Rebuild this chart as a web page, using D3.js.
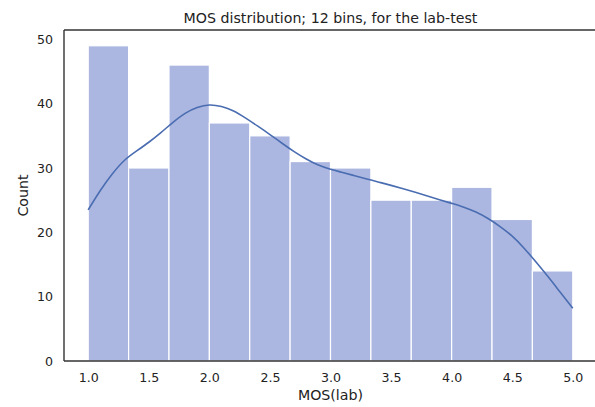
<!DOCTYPE html>
<html>
<head>
<meta charset="utf-8">
<script src="https://cdn.jsdelivr.net/npm/d3@7"></script>
<style>
  html, body { margin: 0; padding: 0; background: #fff; }
  svg { display: block; font-family: "DejaVu Sans", sans-serif; }
</style>
</head>
<body>
<svg id="chart" width="595" height="407"></svg>
<script>
// Histogram counts: 12 equal bins over MOS 1.0 – 5.0
const binStart = 1.0;
const binEnd = 5.0;
const counts = [49, 30, 46, 37, 35, 31, 30, 25, 25, 27, 22, 14];

// Kernel density estimate, scaled to counts, sampled every 0.1
const kdeX = [1.0, 1.1, 1.2, 1.3, 1.4, 1.5, 1.6, 1.7, 1.8, 1.9,
              2.0, 2.1, 2.2, 2.3, 2.4, 2.5, 2.6, 2.7, 2.8, 2.9,
              3.0, 3.1, 3.2, 3.3, 3.4, 3.5, 3.6, 3.7, 3.8, 3.9,
              4.0, 4.1, 4.2, 4.3, 4.4, 4.5, 4.6, 4.7, 4.8, 4.9, 5.0];
const kdeY = [23.5, 26.5, 29.1, 31.2, 32.65, 34.0, 35.5, 37.1, 38.5, 39.4,
              39.8, 39.55, 38.85, 37.75, 36.5, 35.2, 33.85, 32.55, 31.4, 30.45,
              29.8, 29.3, 28.8, 28.3, 27.8, 27.3, 26.78, 26.23, 25.66, 25.08,
              24.5, 23.9, 23.15, 22.15, 20.9, 19.4, 17.5, 15.3, 13.0, 10.6, 8.2];

const xTicks = [1.0, 1.5, 2.0, 2.5, 3.0, 3.5, 4.0, 4.5, 5.0];
const yTicks = [0, 10, 20, 30, 40, 50];

const titleText = "MOS distribution; 12 bins, for the lab-test";
const xLabel = "MOS(lab)";
const yLabel = "Count";

const svg = d3.select("#chart");
const plot = { left: 64, right: 597, top: 30, bottom: 361 };

const pad = (binEnd - binStart) * 0.05;
const x = d3.scaleLinear().domain([binStart - pad, binEnd + pad]).range([plot.left, plot.right]);
const y = d3.scaleLinear().domain([0, d3.max(counts) * 1.05]).range([plot.bottom, plot.top]);

const binW = (binEnd - binStart) / counts.length;
const bins = counts.map((c, i) => ({ x0: binStart + i * binW, x1: binStart + (i + 1) * binW, c }));

// Bars
svg.append("g").selectAll("rect").data(bins).join("rect")
  .attr("x", d => x(d.x0))
  .attr("y", d => y(d.c))
  .attr("width", d => x(d.x1) - x(d.x0))
  .attr("height", d => y(0) - y(d.c))
  .attr("fill", "#acb7e1")
  .attr("stroke", "#ffffff")
  .attr("stroke-width", 1.2);

// KDE curve
const line = d3.line()
  .x((d, i) => x(kdeX[i]))
  .y(d => y(d))
  .curve(d3.curveNatural);
svg.append("path")
  .attr("d", line(kdeY))
  .attr("fill", "none")
  .attr("stroke", "#4a6db1")
  .attr("stroke-width", 1.6);

// Axes (no tick marks, labels only)
const xAxis = d3.axisBottom(x).tickValues(xTicks).tickFormat(d3.format(".1f")).tickSize(0).tickPadding(12);
const gx = svg.append("g").attr("transform", `translate(0,${plot.bottom})`).call(xAxis);
gx.select(".domain").remove();
gx.selectAll("text").attr("font-size", 12.6).attr("fill", "#222").attr("font-family", "DejaVu Sans");

const yAxis = d3.axisLeft(y).tickValues(yTicks).tickSize(0).tickPadding(11);
const gy = svg.append("g").attr("transform", `translate(${plot.left},0)`).call(yAxis);
gy.select(".domain").remove();
gy.selectAll("text").attr("font-size", 12.6).attr("fill", "#222").attr("font-family", "DejaVu Sans");

// Spines
const spine = svg.append("g").attr("stroke", "#333").attr("stroke-width", 1.4).attr("fill", "none");
spine.append("line").attr("x1", plot.left).attr("x2", plot.right).attr("y1", plot.top).attr("y2", plot.top);
spine.append("line").attr("x1", plot.left).attr("x2", plot.right).attr("y1", plot.bottom).attr("y2", plot.bottom);
spine.append("line").attr("x1", plot.left).attr("x2", plot.left).attr("y1", plot.top).attr("y2", plot.bottom);
spine.append("line").attr("x1", plot.right).attr("x2", plot.right).attr("y1", plot.top).attr("y2", plot.bottom);

// Title and axis labels
svg.append("text")
  .attr("x", (plot.left + plot.right) / 2).attr("y", 23)
  .attr("text-anchor", "middle").attr("font-size", 14.2).attr("fill", "#222")
  .text(titleText);

svg.append("text")
  .attr("x", (plot.left + plot.right) / 2).attr("y", 400)
  .attr("text-anchor", "middle").attr("font-size", 14.2).attr("fill", "#222")
  .text(xLabel);

svg.append("text")
  .attr("transform", `translate(28,${(plot.top + plot.bottom) / 2}) rotate(-90)`)
  .attr("text-anchor", "middle").attr("font-size", 14.2).attr("fill", "#222")
  .text(yLabel);
</script>
</body>
</html>
